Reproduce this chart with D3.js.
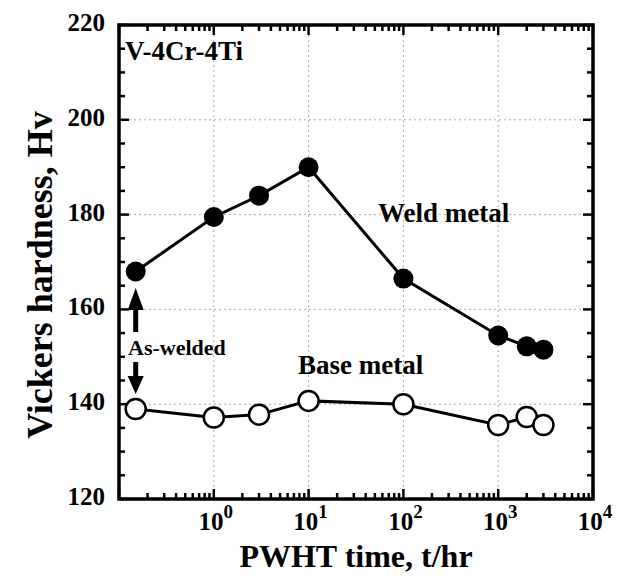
<!DOCTYPE html>
<html>
<head>
<meta charset="utf-8">
<script src="https://cdn.jsdelivr.net/npm/d3@7"></script>
<style>
  body { margin: 0; background: #fff; }
  text { font-family: "Liberation Serif", "Times New Roman", serif; font-weight: bold; }
</style>
</head>
<body>
<svg width="620" height="576"></svg>
<script>
// data
var times = [0.15, 1, 3, 10, 100, 1000, 2000, 3000];
var weldHv = [168, 179.5, 184, 190, 166.5, 154.5, 152.2, 151.5];
var baseHv = [139, 137.2, 137.8, 140.7, 140, 135.6, 137.3, 135.6];
var xDecades = [1, 10, 100, 1000, 10000];
var yTicks = [120, 140, 160, 180, 200, 220];

const svg = d3.select("svg");
const pLeft = 119, pRight = 593, pTop = 25, pBottom = 499;

const x = d3.scaleLog().domain([0.1, 10000]).range([pLeft, pRight]);
const y = d3.scaleLinear().domain([120, 220]).range([pBottom, pTop]);

// dotted grid
const grid = svg.append("g")
    .attr("stroke", "#aaa")
    .attr("stroke-width", 1)
    .attr("stroke-dasharray", "2,3");
grid.selectAll("line.gx")
  .data(xDecades.slice(0, -1))
  .enter().append("line")
    .attr("x1", d => x(d)).attr("x2", d => x(d))
    .attr("y1", pTop).attr("y2", pBottom);
grid.selectAll("line.gy")
  .data(yTicks.slice(1, -1))
  .enter().append("line")
    .attr("x1", pLeft).attr("x2", pRight)
    .attr("y1", d => y(d)).attr("y2", d => y(d));

// inward ticks
var minorX = [];
for (var p = -1; p < 4; p++) {
  for (var m = 1; m < 10; m++) minorX.push(m * Math.pow(10, p));
}
minorX.push(10000);
var minorY = d3.range(120, 221, 5);

const ticks = svg.append("g").attr("stroke", "#000").attr("stroke-width", 2.5);
minorX.forEach(function(v) {
  var major = Math.abs(Math.log10(v) - Math.round(Math.log10(v))) < 1e-9;
  var len = major ? 10 : 6;
  ticks.append("line").attr("x1", x(v)).attr("x2", x(v)).attr("y1", pBottom).attr("y2", pBottom - len);
  ticks.append("line").attr("x1", x(v)).attr("x2", x(v)).attr("y1", pTop).attr("y2", pTop + len);
});
minorY.forEach(function(v) {
  var len = v % 20 === 0 ? 10 : 6;
  ticks.append("line").attr("x1", pLeft).attr("x2", pLeft + len).attr("y1", y(v)).attr("y2", y(v));
  ticks.append("line").attr("x1", pRight).attr("x2", pRight - len).attr("y1", y(v)).attr("y2", y(v));
});

// frame
svg.append("rect")
    .attr("x", pLeft).attr("y", pTop)
    .attr("width", pRight - pLeft).attr("height", pBottom - pTop)
    .attr("fill", "none").attr("stroke", "#000").attr("stroke-width", 3.5);

// tick labels
svg.append("g").selectAll("text")
  .data(yTicks)
  .enter().append("text")
    .attr("x", pLeft - 14)
    .attr("y", d => y(d) + 6)
    .attr("text-anchor", "end")
    .style("font-size", "25px")
    .text(d => d);

const xl = svg.append("g").selectAll("text")
  .data(xDecades)
  .enter().append("text")
    .attr("x", d => x(d) + 2)
    .attr("y", 530)
    .attr("text-anchor", "middle")
    .style("font-size", "25px");
xl.append("tspan").text("10");
xl.append("tspan").attr("dy", -12).style("font-size", "19px").text(d => Math.round(Math.log10(d)));

// axis titles
svg.append("text")
    .attr("x", 356)
    .attr("y", 567)
    .attr("text-anchor", "middle")
    .style("font-size", "32px")
    .text("PWHT time, t/hr");
svg.append("text")
    .attr("transform", "translate(52,275) rotate(-90)")
    .attr("text-anchor", "middle")
    .style("font-size", "36px")
    .text("Vickers hardness, Hv");

// series
const line = d3.line().x(d => x(d[0])).y(d => y(d[1]));
const weld = times.map((t, i) => [t, weldHv[i]]);
const base = times.map((t, i) => [t, baseHv[i]]);

svg.append("path").datum(weld).attr("d", line)
    .attr("fill", "none").attr("stroke", "#000").attr("stroke-width", 3);
svg.append("path").datum(base).attr("d", line)
    .attr("fill", "none").attr("stroke", "#000").attr("stroke-width", 3);

svg.append("g").selectAll("circle")
  .data(weld)
  .enter().append("circle")
    .attr("cx", d => x(d[0])).attr("cy", d => y(d[1]))
    .attr("r", 10).attr("fill", "#000");
svg.append("g").selectAll("circle")
  .data(base)
  .enter().append("circle")
    .attr("cx", d => x(d[0])).attr("cy", d => y(d[1]))
    .attr("r", 10).attr("fill", "#fff").attr("stroke", "#000").attr("stroke-width", 2.5);

// annotations
svg.append("text").attr("x", 125).attr("y", 60).style("font-size", "27px").text("V-4Cr-4Ti");
svg.append("text").attr("x", 378).attr("y", 222).style("font-size", "27px").text("Weld metal");
svg.append("text").attr("x", 298).attr("y", 374).style("font-size", "27px").text("Base metal");
svg.append("text").attr("x", 128).attr("y", 355).style("font-size", "22px").text("As-welded");

// as-welded arrows
const ax = x(times[0]);
const arr = svg.append("g").attr("fill", "#000").attr("stroke", "#000");
arr.append("line").attr("x1", ax).attr("x2", ax).attr("y1", 332).attr("y2", 306).attr("stroke-width", 5);
arr.append("path").attr("stroke", "none")
    .attr("d", "M" + ax + ",288 l-8,22 l16,0 z");
arr.append("line").attr("x1", ax).attr("x2", ax).attr("y1", 362).attr("y2", 381).attr("stroke-width", 5);
arr.append("path").attr("stroke", "none")
    .attr("d", "M" + ax + ",394 l-8,-18 l16,0 z");
</script>
</body>
</html>
